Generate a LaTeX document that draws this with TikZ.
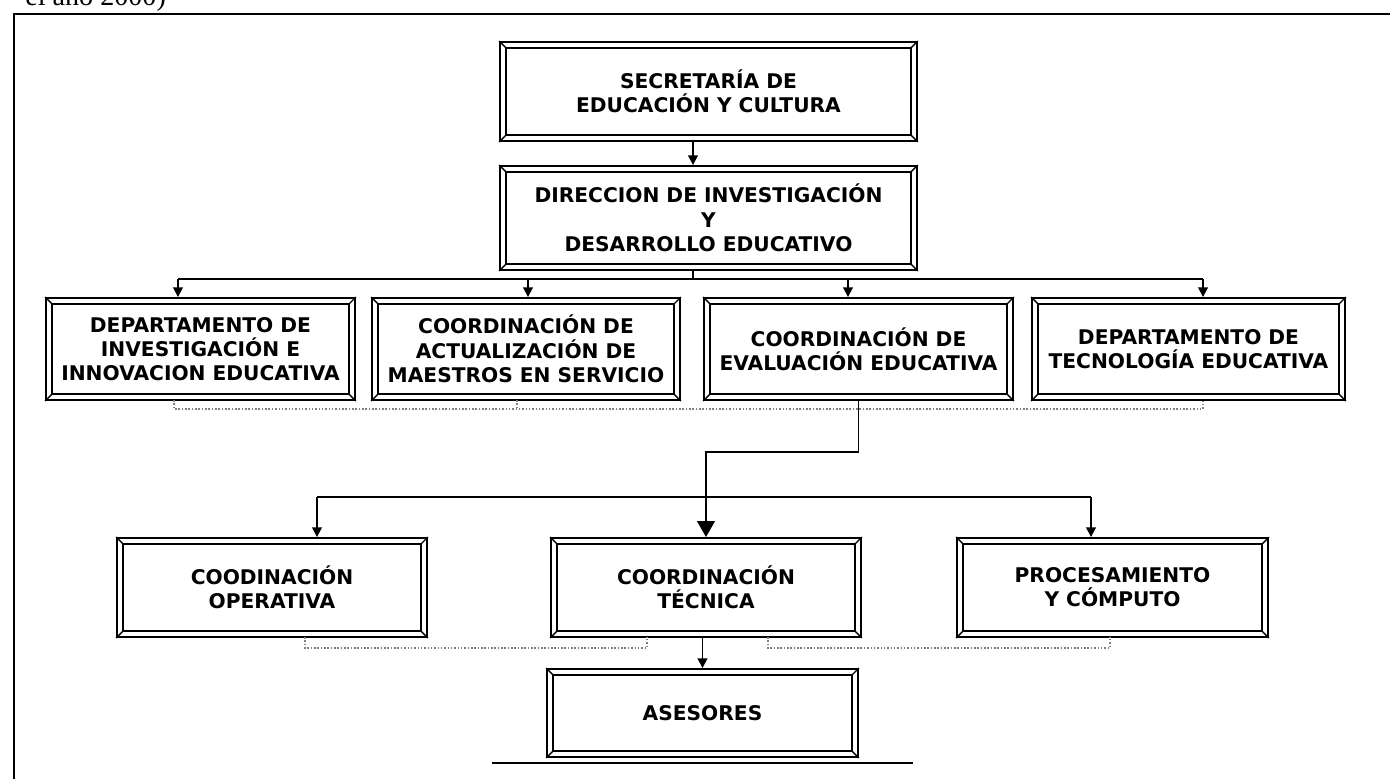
\documentclass[tikz,border=0pt]{standalone}
\usepackage{fontspec}
\setmainfont{DejaVu Sans}
\newfontfamily\textoserif{Liberation Serif}
\usetikzlibrary{arrows.meta}
\usetikzlibrary{calc}

\begin{document}
\begin{tikzpicture}[x=0.02cm, y=-0.02cm,
    caja/.style={draw, line width=1.1pt, inner sep=0pt, align=center,
      font=\fontsize{11.5}{13.8}\selectfont\bfseries,
      append after command={\pgfextra{
        \draw[line width=1.1pt] ([shift={(0.14cm,-0.14cm)}]\tikzlastnode.north west)
          rectangle ([shift={(-0.14cm,0.14cm)}]\tikzlastnode.south east);
        \draw[line width=0.8pt] (\tikzlastnode.north west) -- ++(0.14cm,-0.14cm)
          (\tikzlastnode.north east) -- ++(-0.14cm,-0.14cm)
          (\tikzlastnode.south west) -- ++(0.14cm,0.14cm)
          (\tikzlastnode.south east) -- ++(-0.14cm,0.14cm);
      }}},
    flecha/.style={line width=1pt, -{Triangle[length=5.5pt, width=5.5pt]}},
    punteada/.style={densely dotted, gray, line width=0.9pt}]
  \useasboundingbox (0,0) rectangle (1390,779);

  % marco de la pagina
  \node[anchor=base west, font=\textoserif\fontsize{16}{16}\selectfont, inner sep=0pt] (nota) at (25,5) {el año 2000)};
  \draw[line width=1pt] (14,779) -- (14,14) -- (1390,14);

  % niveles superiores
  \node[caja, minimum width=8.34cm, minimum height=1.98cm] (sec) at (708.5,91.5) {SECRETARÍA DE\\EDUCACIÓN Y CULTURA};
  \node[caja, minimum width=8.34cm, minimum height=2.08cm] (dir) at (708.5,218) {DIRECCION DE INVESTIGACIÓN\\Y\\DESARROLLO EDUCATIVO};

  % departamentos y coordinaciones
  \begin{scope}[minimum height=2.04cm]
    \node[caja, minimum width=6.18cm] (depinv) at (200.5,349) {DEPARTAMENTO DE\\INVESTIGACIÓN E\\INNOVACION EDUCATIVA};
    \node[caja, minimum width=6.16cm] (coordact) at (526,349) {COORDINACIÓN DE\\ACTUALIZACIÓN DE\\MAESTROS EN SERVICIO};
    \node[caja, minimum width=6.18cm] (eval) at (858.5,349) {COORDINACIÓN DE\\EVALUACIÓN EDUCATIVA};
    \node[caja, minimum width=6.26cm] (tec) at (1188.5,349) {DEPARTAMENTO DE\\TECNOLOGÍA EDUCATIVA};
  \end{scope}

  \begin{scope}[minimum height=1.98cm]
    \node[caja, minimum width=6.2cm] (oper) at (272,587.5) {COODINACIÓN\\OPERATIVA};
    \node[caja, minimum width=6.2cm] (tecn) at (706,587.5) {COORDINACIÓN\\TÉCNICA};
    \node[caja, minimum width=6.22cm] (proc) at (1112.5,587.5) {PROCESAMIENTO\\Y CÓMPUTO};
  \end{scope}
  \node[caja, minimum width=6.22cm, minimum height=1.76cm] (ases) at (702.5,713) {ASESORES};

  % conectores
  \coordinate (d1) at (693,279);
  \coordinate (t1) at (178,279);
  \coordinate (t2) at (528,279);
  \coordinate (t3) at (848,279);
  \coordinate (t4) at (1203,279);
  \draw[flecha] (d1 |- sec.south) -- (d1 |- dir.north);
  \draw[line width=1pt] (d1 |- dir.south) -- (d1);
  \draw[line width=1pt] (t1) -- (t4);
  \foreach \t/\b in {t1/depinv, t2/coordact, t3/eval, t4/tec}
    \draw[flecha] (\t) -- (\t |- \b.north);

  \draw[line width=1pt, -{Triangle[length=9pt, width=10pt]}] (eval.south) -- ++(0,51) -| (tecn.north);
  \coordinate (c1) at (317,497);
  \coordinate (c2) at (1091,497);
  \draw[flecha] (c1) -- (c1 |- oper.north);
  \draw[flecha] (c2) -- (c2 |- proc.north);
  \draw[line width=1pt] (c1) -- (c2);
  \draw[flecha] (ases.north |- tecn.south) -- (ases.north);
  \draw[line width=0.9pt] (492,763) -- (913,763);

  % lineas punteadas
  \draw[punteada] (174,400) -- (174,409) -- (1203,409) -- (1203,400);
  \draw[punteada] (517,400) -- (517,409);
  \draw[punteada] (305,637) -- (305,648) -- (647,648) -- (647,637);
  \draw[punteada] (768,637) -- (768,648) -- (1110,648) -- (1110,637);
\end{tikzpicture}
\end{document}
